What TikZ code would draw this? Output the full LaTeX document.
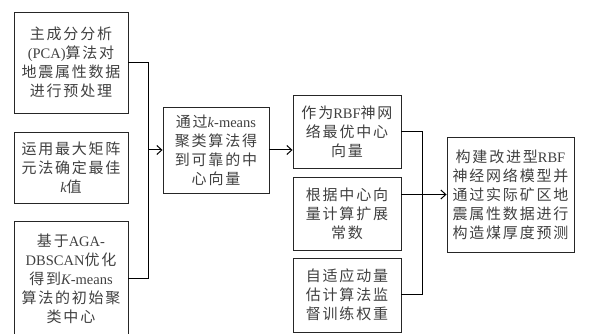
\documentclass[tikz,border=0pt]{standalone}
\usepackage{fontspec}
\setmainfont{Noto Sans CJK SC}[LetterSpace=12]
\newfontfamily\latf{Liberation Serif}
\newcommand\en[1]{{\latf\fontsize{14.5}{19}\selectfont #1}}
\newcommand\ei[1]{{\latf\itshape\fontsize{14.5}{19}\selectfont #1}}
\usetikzlibrary{arrows.meta}
\tikzset{
  box/.style={draw=black!85, line width=0.9pt, align=center, inner sep=0pt,
    font=\fontsize{15}{19}\selectfont, text=black!75},
  conn/.style={draw=black, line width=1pt},
  arr/.style={conn, -{Straight Barb[length=5pt,width=9pt]}}
}
\begin{document}
\begin{tikzpicture}[x=1pt,y=-1pt]
\useasboundingbox (0,0) rectangle (590,334);
\node[box, minimum width=114pt, minimum height=101pt] (b1) at (71,62.5)
  {主成分分析\\\en{(PCA)}算法对\\地震属性数据\\进行预处理};
\node[box, minimum width=114pt, minimum height=71pt] (b2) at (71,167.5)
  {运用最大矩阵\\元法确定最佳\\\ei{k}值};
\node[box, minimum width=114pt, minimum height=116pt] (b3) at (71,279)
  {基于\en{AGA-}\\\en{DBSCAN}优化\\得到\ei{K}\en{-means}\\算法的初始聚\\类中心};
\node[box, minimum width=106pt, minimum height=86pt] (mid) at (216,150)
  {通过\ei{k}\en{-means}\\聚类算法得\\到可靠的中\\心向量};
\node[box, minimum width=108pt, minimum height=73pt] (ra) at (347,131.5)
  {作为\en{RBF}神网\\络最优中心\\向量};
\node[box, minimum width=108pt, minimum height=73pt] (rb) at (347,213.5)
  {根据中心向\\量计算扩展\\常数};
\node[box, minimum width=108pt, minimum height=74pt] (rc) at (347,295)
  {自适应动量\\估计算法监\\督训练权重};
\node[box, minimum width=127pt, minimum height=115pt] (fin) at (510.5,194.5)
  {构建改进型\en{RBF}\\神经网络模型并\\通过实际矿区地\\震属性数据进行\\构造煤厚度预测};
\coordinate (j1) at (148,62);
\coordinate (j2) at (422,132);
\draw[conn] (b1.east) -- (b1.east -| j1) -- (b3.east -| j1) -- (b3.east);
\draw[arr] (j1 |- mid.west) -- (mid.west);
\draw[arr] (mid.east) -- (mid.east -| ra.west);
\draw[conn] (ra.east) -- (ra.east -| j2) -- (rc.east -| j2) -- (rc.east);
\draw[arr] (rb.east |- fin.west) -- (fin.west);
\end{tikzpicture}
\end{document}
